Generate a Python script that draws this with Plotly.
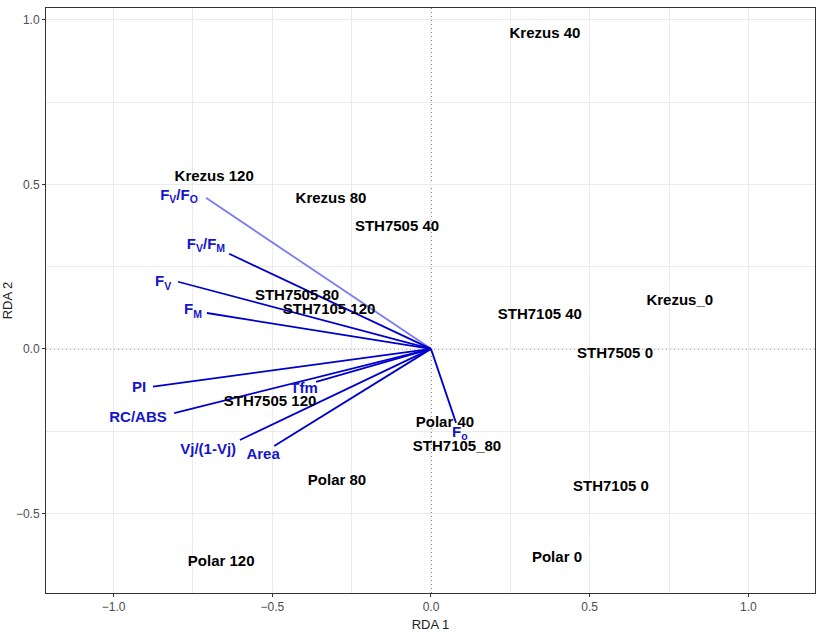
import plotly.graph_objects as go

# Sample (site) scores
sample_names = ["Krezus 40", "Krezus 120", "Krezus 80", "STH7505 40", "Krezus_0",
                "STH7505 80", "STH7105 120", "STH7105 40", "STH7505 0", "STH7505 120",
                "Polar 40", "STH7105_80", "STH7105 0", "Polar 80", "Polar 0", "Polar 120"]
sample_x = [0.359, -0.683, -0.315, -0.107, 0.784, -0.422, -0.321, 0.343, 0.580, -0.507,
            0.044, 0.082, 0.567, -0.296, 0.397, -0.661]
sample_y = [0.957, 0.523, 0.456, 0.371, 0.146, 0.161, 0.116, 0.103, -0.015, -0.161,
            -0.225, -0.298, -0.422, -0.401, -0.635, -0.650]

# Variable (biplot) arrows
var_names = ["F<sub>V</sub>/F<sub>O</sub>", "F<sub>V</sub>/F<sub>M</sub>", "F<sub>V</sub>",
             "F<sub>M</sub>", "PI", "RC/ABS", "Tfm", "Vj/(1-Vj)", "Area", "F<sub>o</sub>"]
var_x = [-0.709, -0.636, -0.797, -0.706, -0.876, -0.809, -0.362, -0.602, -0.494, 0.079]
var_y = [0.459, 0.289, 0.204, 0.109, -0.115, -0.195, -0.100, -0.277, -0.295, -0.225]
var_label_x = [-0.794, -0.709, -0.844, -0.750, -0.920, -0.923, -0.400, -0.702, -0.529, 0.091]
var_label_y = [0.465, 0.316, 0.201, 0.116, -0.119, -0.210, -0.122, -0.307, -0.322, -0.255]
var_colors = ["#7b7bef", "#0000CD", "#0000CD", "#0000CD", "#0000CD", "#0000CD",
              "#0000CD", "#0000CD", "#0000CD", "#0000CD"]

fig = go.Figure()

# zero reference lines (dotted)
fig.add_shape(type="line", xref="x", yref="paper", x0=0, x1=0, y0=0, y1=1,
              line=dict(color="black", width=1, dash="1px,3px"), layer="between")
fig.add_shape(type="line", xref="paper", yref="y", x0=0, x1=1, y0=0, y1=0,
              line=dict(color="black", width=1, dash="1px,3px"), layer="between")

for xe, ye, c in zip(var_x, var_y, var_colors):
    fig.add_trace(go.Scatter(x=[0, xe], y=[0, ye], mode="lines",
                             line=dict(color=c, width=1.8), hoverinfo="skip",
                             showlegend=False))

fig.add_trace(go.Scatter(x=sample_x, y=sample_y, mode="text", text=sample_names,
                         textfont=dict(family="Liberation Sans", size=15, color="black",
                                       weight="bold"),
                         showlegend=False))

fig.add_trace(go.Scatter(x=var_label_x, y=var_label_y, mode="text", text=var_names,
                         textfont=dict(family="Liberation Sans", size=15, color="#1515CC",
                                       weight="bold"),
                         showlegend=False))

axis_common = dict(
    showgrid=True, gridcolor="#EBEBEB", gridwidth=1, automargin=False,
    zeroline=False, showline=True, linecolor="#333333", linewidth=1, mirror=True,
    ticks="outside", ticklen=3, tickcolor="#333333",
    tickfont=dict(family="Liberation Sans Narrow, Liberation Sans", size=12, color="#4D4D4D"),
    minor=dict(showgrid=True, gridcolor="#EBEBEB", gridwidth=1, dtick=0.25),
)

fig.update_layout(
    width=823, height=632,
    margin=dict(l=46, r=8, t=8, b=39),
    plot_bgcolor="white", paper_bgcolor="white",
    xaxis=dict(range=[-1.213, 1.21], tickvals=[-1.0, -0.5, 0.0, 0.5, 1.0],
               ticktext=["\u22121.0", "\u22120.5", "0.0", "0.5", "1.0"],
               title=dict(text="RDA 1", font=dict(family="Liberation Sans Narrow, Liberation Sans",
                                                  size=13, color="#222222"), standoff=8),
               **axis_common),
    yaxis=dict(range=[-0.742, 1.036], tickvals=[-0.5, 0.0, 0.5, 1.0],
               ticktext=["\u22120.5", "0.0", "0.5", "1.0"],
               title=dict(text="RDA 2", font=dict(family="Liberation Sans Narrow, Liberation Sans",
                                                  size=13, color="#222222"), standoff=8),
               **axis_common),
)

fig.write_html("out.html")
